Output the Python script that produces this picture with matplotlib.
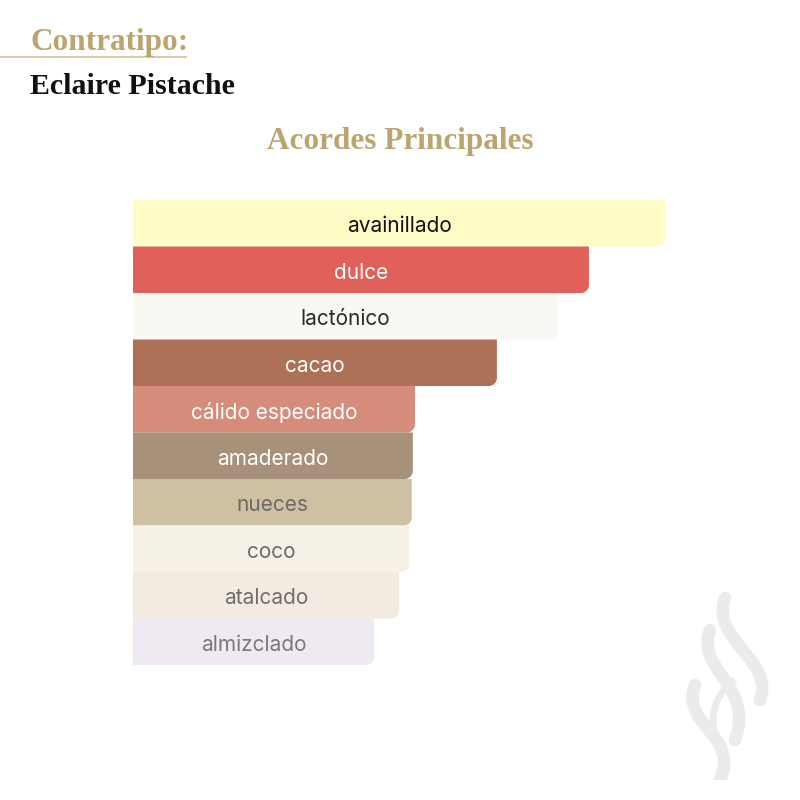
import matplotlib
matplotlib.use("Agg")
import matplotlib.pyplot as plt
from matplotlib.path import Path
from matplotlib.patches import PathPatch

# Data
acordes = ["avainillado", "dulce", "lactónico", "cacao", "cálido especiado",
           "amaderado", "nueces", "coco", "atalcado", "almizclado"]
valores = [100, 85.7, 79.9, 68.4, 53.0, 52.6, 52.4, 51.9, 50.0, 45.3]
colores = ["#FEFCC4", "#E0605A", "#FAF8F2", "#AD7157", "#D68C7A",
           "#A8917A", "#D0C0A2", "#F5F1E6", "#F3EAE2", "#EFEAF2"]
texto_col = ["#111111", "#FFFFFF", "#2A2A2A", "#FFFFFF", "#FFFFFF",
             "#FFFFFF", "#6A6A6A", "#6A6A6A", "#6E6E6E", "#7A7A7A"]

gold = "#BBA46E"

fig = plt.figure(figsize=(8, 8), dpi=100)
fig.patch.set_facecolor("white")

# header texts
fig.text(30 / 800, 1 - 50 / 800, "Contratipo:", color=gold, fontsize=22.5,
         fontweight="bold", family="Liberation Serif", ha="left", va="baseline")
fig.add_artist(plt.Line2D([0, 186 / 800], [1 - 57 / 800, 1 - 57 / 800],
                          color="#DCCDA6", lw=1.5))
fig.text(30 / 800, 1 - 94 / 800, "Eclaire Pistache", color="#111111", fontsize=21.5,
         fontweight="bold", family="Liberation Serif", ha="left", va="baseline")
fig.text(0.5, 1 - 149 / 800, "Acordes Principales", color=gold, fontsize=22.5,
         fontweight="bold", family="Liberation Serif", ha="center", va="baseline")

# bars
ax = fig.add_axes([133 / 800, 1 - 665 / 800, 532 / 800, 465 / 800])
ax.set_xlim(0, 100)
ax.set_ylim(len(acordes) - 0.5, -0.5)
ax.axis("off")

bars = ax.barh(range(len(acordes)), valores, height=1.0, color=colores)

# round the bottom-right corner of each bar (radius ~8 px)
rx = 8 * 100 / 532
ry = 8 / 46.5
k = 0.5523
for b, c in zip(bars, colores):
    x0, y0 = b.get_x(), b.get_y()
    x1, y1 = x0 + b.get_width(), y0 + b.get_height()
    # y increases downward on screen (inverted axis): y1 is the bottom edge
    verts = [(x0, y0), (x1, y0), (x1, y1 - ry),
             (x1, y1 - ry + k * ry), (x1 - rx + k * rx, y1), (x1 - rx, y1),
             (x0, y1), (x0, y0)]
    codes = [Path.MOVETO, Path.LINETO, Path.LINETO,
             Path.CURVE4, Path.CURVE4, Path.CURVE4,
             Path.LINETO, Path.CLOSEPOLY]
    b.set_visible(False)
    ax.add_patch(PathPatch(Path(verts, codes), facecolor=c, edgecolor="none"))

for i, (name, v) in enumerate(zip(acordes, valores)):
    ax.text(v / 2, i + 0.02, name, ha="center", va="center_baseline", fontsize=15,
            color=texto_col[i], family="Inter")

# faint logo in the corner
lg = fig.add_axes([680 / 800, 20 / 800, 100 / 800, 190 / 800])
lg.set_xlim(0, 100)
lg.set_ylim(0, 190)
lg.axis("off")
strokes = [
    [(45, 182), (30, 140), (95, 120), (80, 80)],
    [(30, 150), (15, 110), (75, 95), (55, 40)],
    [(15, 95), (0, 55), (60, 45), (40, 0)],
]
for s in strokes:
    p = Path(s, [Path.MOVETO, Path.CURVE4, Path.CURVE4, Path.CURVE4])
    lg.add_patch(PathPatch(p, facecolor="none", edgecolor="#EBEBEB", lw=9,
                           capstyle="round"))
p = Path([(55, 100), (25, 80), (30, 40), (45, 30)],
         [Path.MOVETO, Path.CURVE4, Path.CURVE4, Path.CURVE4])
lg.add_patch(PathPatch(p, facecolor="none", edgecolor="#EBEBEB", lw=5))

fig.savefig("out.png", dpi=100, facecolor="white")
